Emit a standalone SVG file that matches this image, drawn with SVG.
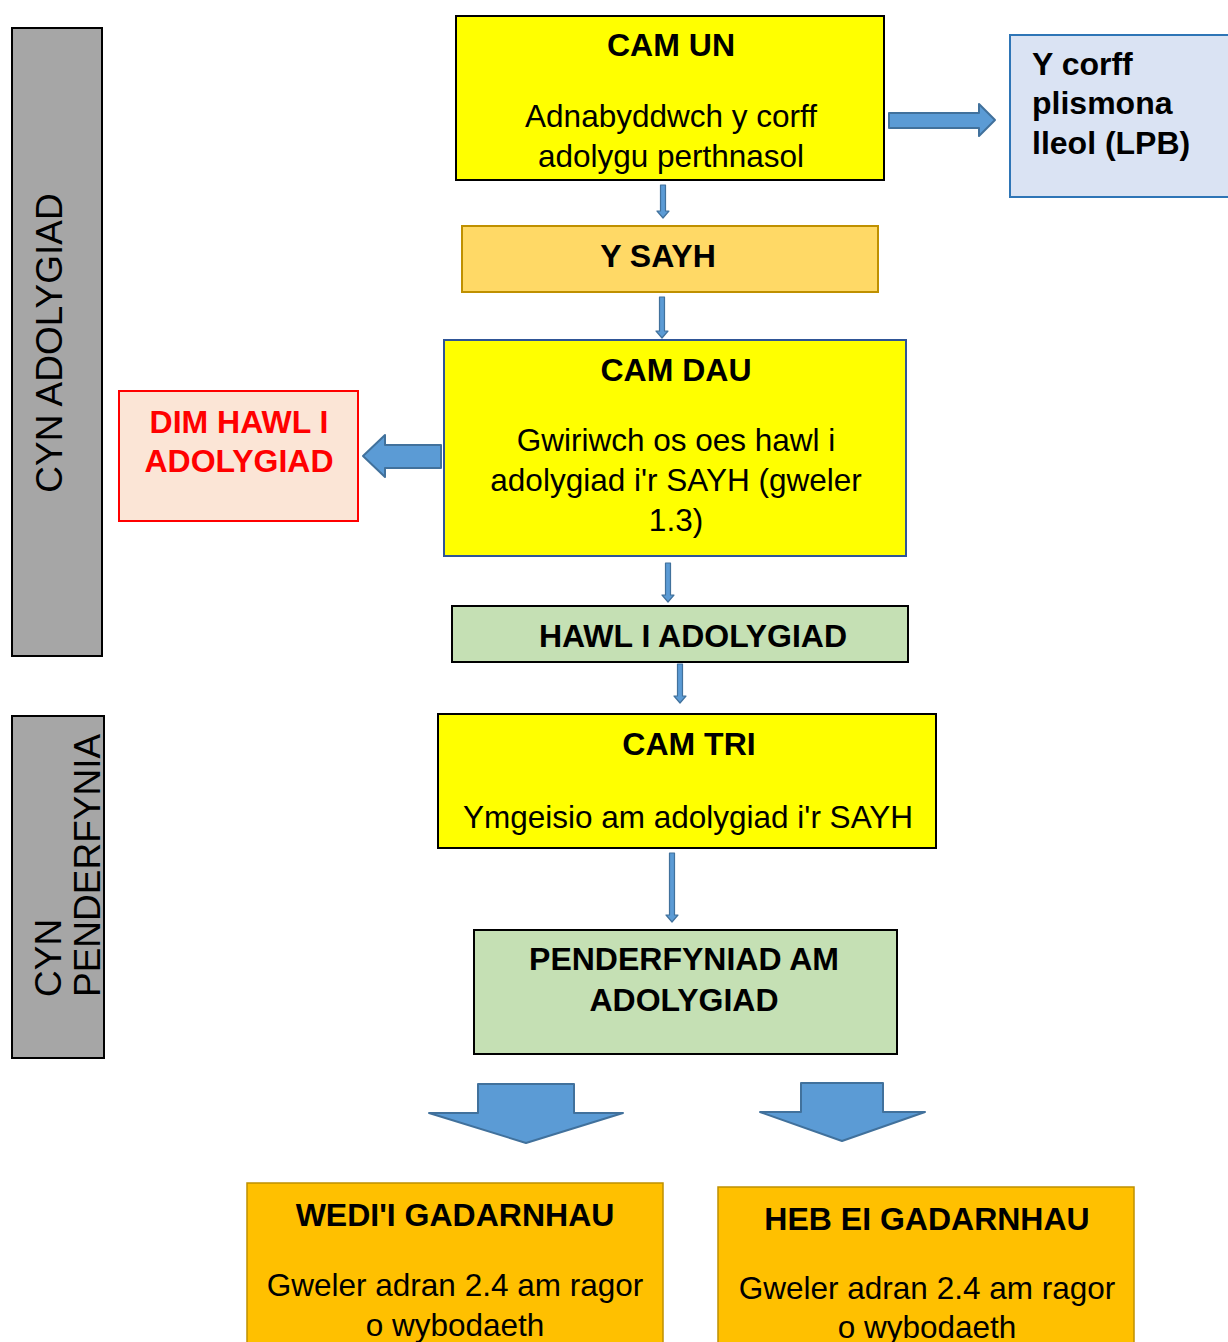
<svg xmlns="http://www.w3.org/2000/svg" width="1228" height="1342" viewBox="0 0 1228 1342">
<style>
text{font-family:"Liberation Sans",Arial,sans-serif;fill:#000}
.b{font-weight:bold;font-size:32px}
.r{font-size:31.5px}
.c{text-anchor:middle}
.side{font-size:37px}
.arr{fill:#5B9BD5;stroke:#41719C;stroke-width:2;stroke-linejoin:round}
.sarr{fill:#5B9BD5;stroke:#41719C;stroke-width:1.2;stroke-linejoin:round}
</style>
<rect width="1228" height="1342" fill="#fff"/>
<g id="side-cyn-adolygiad">
<rect x="12" y="28" width="90" height="628" fill="#A6A6A6" stroke="#000" stroke-width="2"/>
<text class="side c" transform="translate(62,343) rotate(-90)">CYN ADOLYGIAD</text>
</g>
<g id="side-cyn-penderfynia">
<rect x="12" y="716" width="92" height="342" fill="#A6A6A6" stroke="#000" stroke-width="2"/>
<text class="side" transform="translate(61,997) rotate(-90)">CYN</text>
<text class="side" transform="translate(100,997) rotate(-90)">PENDERFYNIA</text>
</g>
<g id="cam-un">
<rect x="456" y="16" width="428" height="164" fill="#FFFF00" stroke="#000" stroke-width="2"/>
<text class="b c" x="671" y="56">CAM UN</text>
<text class="r c" x="671" y="127">Adnabyddwch y corff</text>
<text class="r c" x="671" y="167">adolygu perthnasol</text>
</g>
<g id="lpb">
<rect x="1010" y="35" width="230" height="162" fill="#DAE3F3" stroke="#2E75B6" stroke-width="2"/>
<text class="b" x="1032" y="75">Y corff</text>
<text class="b" x="1032" y="114">plismona</text>
<text class="b" x="1032" y="154">lleol (LPB)</text>
</g>
<g id="y-sayh">
<rect x="462" y="226" width="416" height="66" fill="#FFD966" stroke="#BF9000" stroke-width="2"/>
<text class="b c" x="658" y="267">Y SAYH</text>
</g>
<g id="cam-dau">
<rect x="444" y="340" width="462" height="216" fill="#FFFF00" stroke="#2F5597" stroke-width="2"/>
<text class="b c" x="676" y="381">CAM DAU</text>
<text class="r c" x="676" y="451">Gwiriwch os oes hawl i</text>
<text class="r c" x="676" y="491">adolygiad i'r SAYH (gweler</text>
<text class="r c" x="676" y="531">1.3)</text>
</g>
<g id="dim-hawl">
<rect x="119" y="391" width="239" height="130" fill="#FBE5D6" stroke="#FF0000" stroke-width="2"/>
<text class="b c" x="239" y="433" style="fill:#FF0000">DIM HAWL I</text>
<text class="b c" x="239" y="472" style="fill:#FF0000">ADOLYGIAD</text>
</g>
<g id="hawl">
<rect x="452" y="606" width="456" height="56" fill="#C5E0B4" stroke="#000" stroke-width="2"/>
<text class="b c" x="693" y="647">HAWL I ADOLYGIAD</text>
</g>
<g id="cam-tri">
<rect x="438" y="714" width="498" height="134" fill="#FFFF00" stroke="#000" stroke-width="2"/>
<text class="b c" x="689" y="755">CAM TRI</text>
<text class="r c" x="688" y="828">Ymgeisio am adolygiad i'r SAYH</text>
</g>
<g id="penderfyniad">
<rect x="474" y="930" width="423" height="124" fill="#C5E0B4" stroke="#000" stroke-width="2"/>
<text class="b c" x="684" y="970">PENDERFYNIAD AM</text>
<text class="b c" x="684" y="1011">ADOLYGIAD</text>
</g>
<g id="wedi-gadarnhau">
<rect x="247" y="1183" width="416" height="170" fill="#FFC000" stroke="#BF9000" stroke-width="1.5"/>
<text class="b c" x="455" y="1226">WEDI'I GADARNHAU</text>
<text class="r c" x="455" y="1296">Gweler adran 2.4 am ragor</text>
<text class="r c" x="455" y="1336">o wybodaeth</text>
</g>
<g id="heb-gadarnhau">
<rect x="718" y="1187" width="416" height="170" fill="#FFC000" stroke="#BF9000" stroke-width="1.5"/>
<text class="b c" x="927" y="1230">HEB EI GADARNHAU</text>
<text class="r c" x="927" y="1299">Gweler adran 2.4 am ragor</text>
<text class="r c" x="927" y="1338">o wybodaeth</text>
</g>
<g id="connectors">
<polygon class="sarr" points="660.5,185 665.5,185 665.5,211 669,211 663,218 657,211 660.5,211"/>
<polygon class="sarr" points="659.5,297 664.5,297 664.5,331 668,331 662,338 656,331 659.5,331"/>
<polygon class="sarr" points="665.5,563 670.5,563 670.5,595 674,595 668,602 662,595 665.5,595"/>
<polygon class="sarr" points="677.5,664 682.5,664 682.5,696 686,696 680,703 674,696 677.5,696"/>
<polygon class="sarr" points="669.5,853 674.5,853 674.5,915 678,915 672,922 666,915 669.5,915"/>
<polygon class="arr" points="889,113 979,113 979,104 995,120 979,136 979,128 889,128"/>
<polygon class="arr" points="441,445 385,445 385,435 363,456 385,477 385,468 441,468"/>
<polygon class="arr" points="478,1084 574,1084 574,1113 623,1113 526,1143 429,1113 478,1113"/>
<polygon class="arr" points="801,1083 883,1083 883,1112 925,1112 842,1141 760,1112 801,1112"/>
</g>
</svg>
